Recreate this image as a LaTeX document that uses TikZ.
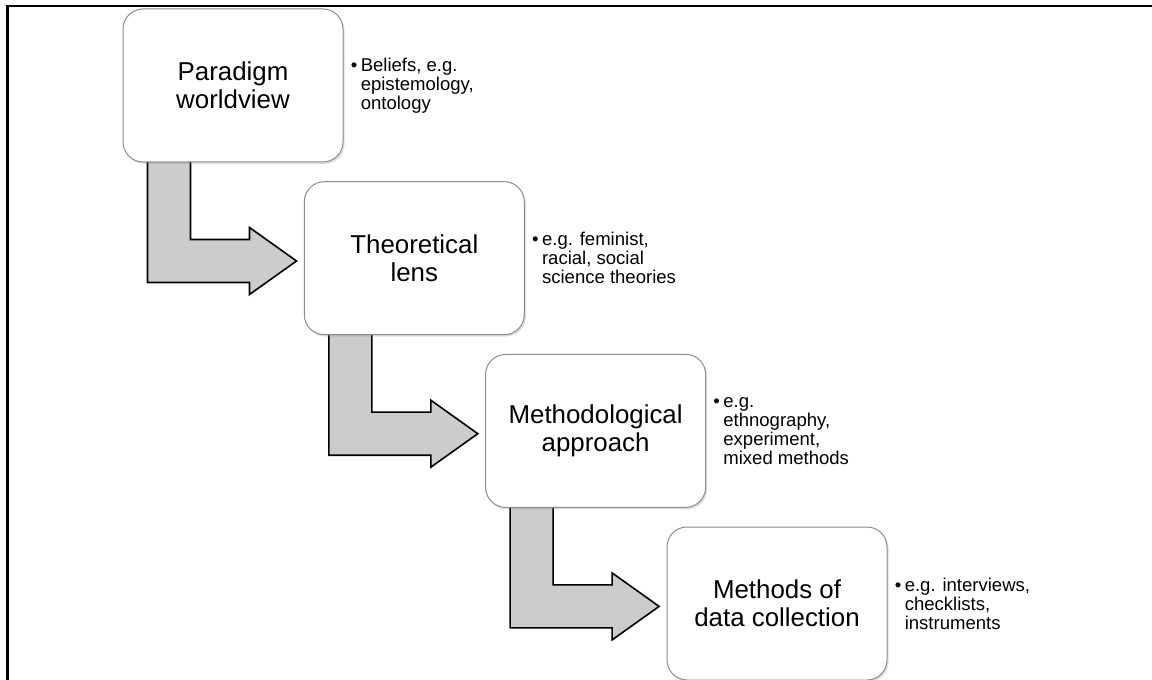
\documentclass[tikz,border=0pt]{standalone}
\usepackage{fontspec}
\setmainfont{Liberation Sans}
\usetikzlibrary{calc,shadows,backgrounds}
\newcommand\bul{\makebox[7.5pt][l]{\textbullet}}
\newcommand\ind{\hspace*{7.5pt}}
\begin{document}
\begin{tikzpicture}[x=0.75pt,y=-0.75pt,
  stage/.style={draw=black!45, line width=0.75pt, fill=white, rounded corners=15pt,
    minimum width=165pt, minimum height=114.75pt, inner sep=0pt, align=center,
    font=\fontsize{19.4pt}{21pt}\selectfont,
    drop shadow={opacity=0.25, shadow xshift=1.2pt, shadow yshift=-1.5pt}},
  note/.style={anchor=west, inner sep=0pt, align=left,
    font=\fontsize{13.9pt}{14.2pt}\selectfont},
  elbow/.style={draw=black, line width=1.2pt, fill=black!20, line join=miter}]
\useasboundingbox (0,0) rectangle (1152,680);

% outer frame, running off the right and bottom edges
\begin{scope}
  \clip (0,0) rectangle (1152,680);
  \draw[line width=1.6pt] (7.5,6) rectangle (1170,700);
\end{scope}

% the four stages
\node[stage] (b1) at (233,85.5)    {Paradigm\\worldview};
\node[stage] (b2) at (414.3,258.2) {Theoretical\\lens};
\node[stage] (b3) at (595.6,430.9) {Methodological\\approach};
\node[stage] (b4) at (777,603.5)   {Methods of\\data collection};

% bullet notes beside each stage
\node[note] (n1) at ($(b1.east)+(7,0)$) {\bul Beliefs, e.g.\\\ind epistemology,\\\ind ontology};
\node[note] (n2) at ($(b2.east)+(7,0)$) {\bul e.g. feminist,\\\ind racial, social\\\ind science theories};
\node[note] (n3) at ($(b3.east)+(7,0)$) {\bul e.g.\\\ind ethnography,\\\ind experiment,\\\ind mixed methods};
\node[note] (n4) at ($(b4.east)+(7,0)$) {\bul e.g. interviews,\\\ind checklists,\\\ind instruments};

% elbow arrows leading from each stage to the next
\begin{scope}[on background layer]
  \foreach \a in {b1,b2,b3}{
    \begin{scope}[shift={(\a.south west)}]
      \draw[elbow] (25,-3) -- (68,-3) -- (68,77) -- (127,77) -- (127,65)
        -- (174,98.5) -- (127,132) -- (127,120) -- (25,120) -- cycle;
    \end{scope}
  }
\end{scope}
\end{tikzpicture}
\end{document}
